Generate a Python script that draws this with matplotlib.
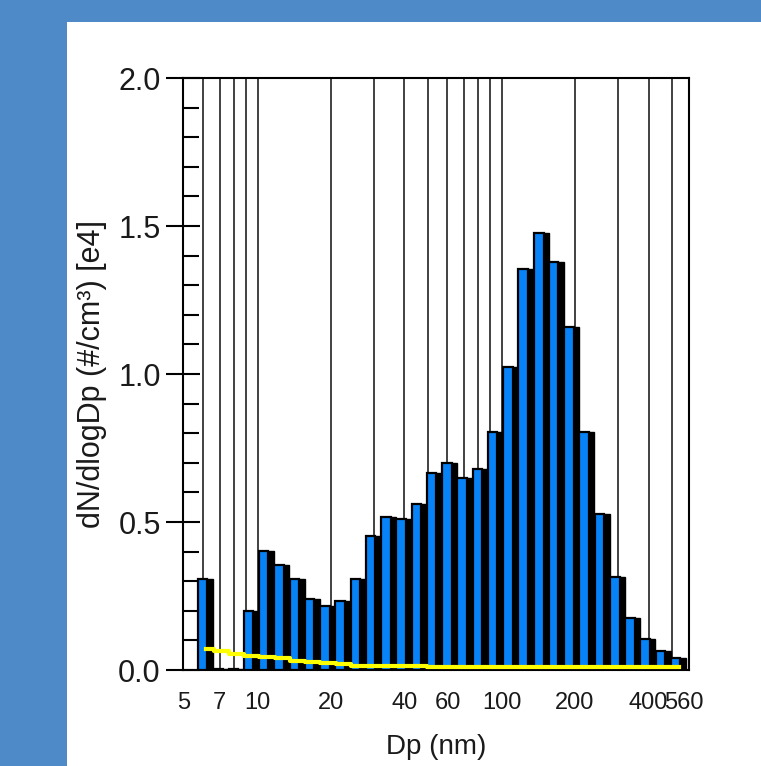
import numpy as np
import matplotlib
matplotlib.use("Agg")
import matplotlib.pyplot as plt
from matplotlib.patches import Rectangle
from matplotlib.ticker import FixedLocator, FixedFormatter, NullFormatter, MultipleLocator

plt.rcParams['font.family'] = ['Liberation Sans', 'DejaVu Sans']

# ---- data ----
Dp = [6.13, 7.08, 8.18, 9.45, 10.9, 12.6, 14.6, 16.8, 19.4, 22.4, 25.9, 29.9,
      34.5, 39.8, 46.0, 53.1, 61.3, 70.8, 81.8, 94.5, 109, 126, 146, 168,
      194, 224, 259, 299, 345, 398, 460, 531]
dNdlogDp = [0.307, 0.005, 0.005, 0.200, 0.403, 0.355, 0.306, 0.241, 0.217, 0.233,
            0.306, 0.454, 0.518, 0.511, 0.560, 0.667, 0.698, 0.650, 0.680, 0.804,
            1.025, 1.354, 1.475, 1.377, 1.158, 0.805, 0.527, 0.315, 0.175, 0.104,
            0.064, 0.040]
yellow_vals = [0.072, 0.063, 0.055, 0.046, 0.043, 0.040, 0.032, 0.026, 0.025, 0.019,
               0.015, 0.013, 0.013, 0.012, 0.012, 0.011, 0.011, 0.011, 0.011, 0.011,
               0.011, 0.011, 0.011, 0.011, 0.011, 0.011, 0.011, 0.011, 0.011, 0.010,
               0.010, 0.010]
xtick_vals = [5, 7, 10, 20, 40, 60, 100, 200, 400, 560]
xtick_labels = ['5', '7', '10', '20', '40', '60', '100', '200', '400', '560']
grid_vals = [6, 7, 8, 9, 10, 20, 30, 40, 50, 60, 70, 80, 90, 100, 200, 300, 400, 500]
ytick_vals = [0.0, 0.5, 1.0, 1.5, 2.0]
ytick_labels = ['0.0', '0.5', '1.0', '1.5', '2.0']

BLUE = '#0783f7'
FRAME = '#4e8ac7'
TXT = '#1a1a1a'

fig = plt.figure(figsize=(7.61, 7.66), dpi=100)
fig.patch.set_facecolor(FRAME)
fig.add_artist(Rectangle((67 / 761, 0), 1, 1 - 22 / 766, transform=fig.transFigure,
                         facecolor='white', edgecolor='none', zorder=0))

ax = fig.add_axes([183 / 761, 1 - 670 / 766, (689 - 183) / 761, (670 - 78) / 766])
ax.set_xscale('log')
ax.set_xlim(4.95, 586)
ax.set_ylim(0, 2.0)
ax.set_axisbelow(True)

Dp_a = np.array(Dp)
lefts = Dp_a * 10 ** (-1 / 32)
shadow_w = lefts * (10 ** (0.97 / 16) - 1)
blue_w = lefts * (10 ** (0.62 / 16) - 1)
ax.bar(lefts, dNdlogDp, width=shadow_w, align='edge', color='black',
       edgecolor='black', linewidth=1.0, zorder=2)
ax.bar(lefts, dNdlogDp, width=blue_w, align='edge', color=BLUE,
       edgecolor='black', linewidth=1.6, zorder=3)

ax.plot(Dp, yellow_vals, color='#ffff00', lw=3, drawstyle='steps-mid', zorder=4)

# x axis
ax.xaxis.remove_overlapping_locs = False
ax.xaxis.set_major_locator(FixedLocator(xtick_vals))
ax.xaxis.set_major_formatter(FixedFormatter(xtick_labels))
ax.xaxis.set_minor_locator(FixedLocator(grid_vals))
ax.xaxis.set_minor_formatter(NullFormatter())
ax.tick_params(axis='x', which='both', length=0, pad=16, labelsize=17, labelcolor=TXT)
ax.grid(which='minor', axis='x', color='#333333', lw=1.3)
ax.grid(which='major', axis='x', visible=False)

# y axis
ax.yaxis.set_major_locator(FixedLocator(ytick_vals))
ax.yaxis.set_major_formatter(FixedFormatter(ytick_labels))
ax.yaxis.set_minor_locator(MultipleLocator(0.1))
ax.tick_params(axis='y', which='major', direction='inout', length=24, width=1.5,
               pad=4, labelsize=22, labelcolor=TXT)
ax.tick_params(axis='y', which='minor', direction='in', length=11.5, width=1.5)

for s in ax.spines.values():
    s.set_linewidth(1.5)
    s.set_color('black')

ax.set_xlabel('Dp (nm)', fontsize=20, color=TXT, labelpad=14)
ax.set_ylabel('dN/dlogDp (#/cm³) [e4]', fontsize=22, color=TXT, labelpad=8)

fig.savefig('out.png', dpi=100, facecolor=fig.get_facecolor())
